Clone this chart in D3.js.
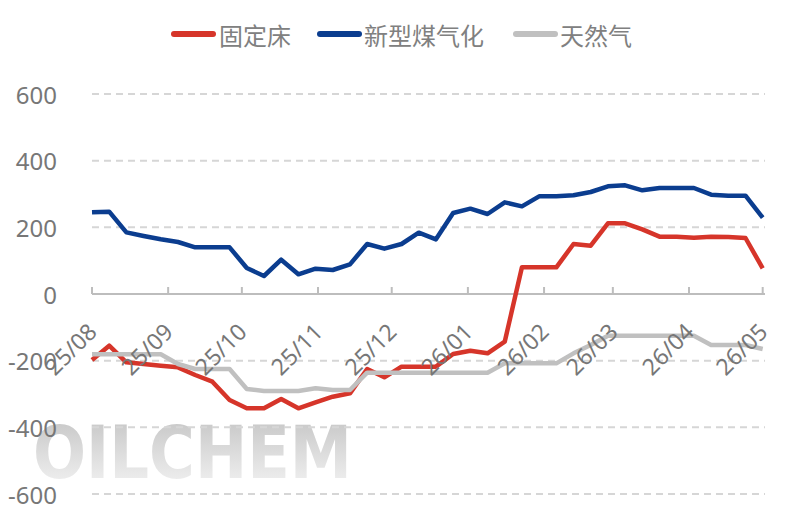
<!DOCTYPE html>
<html>
<head>
<meta charset="utf-8">
<script src="https://cdn.jsdelivr.net/npm/d3@7/dist/d3.min.js"></script>
<style>
  html, body { margin: 0; padding: 0; background: #fff; }
  svg { display: block; }
</style>
</head>
<body>
<svg id="chart" width="800" height="526"></svg>
<script>
const dates = ["2025-08-01","2025-08-08","2025-08-15","2025-08-22","2025-08-29","2025-09-05","2025-09-12","2025-09-19","2025-09-26","2025-10-03","2025-10-10","2025-10-17","2025-10-24","2025-10-31","2025-11-07","2025-11-14","2025-11-21","2025-11-28","2025-12-05","2025-12-12","2025-12-19","2025-12-26","2026-01-02","2026-01-09","2026-01-16","2026-01-23","2026-01-30","2026-02-06","2026-02-13","2026-02-20","2026-02-27","2026-03-06","2026-03-13","2026-03-20","2026-03-27","2026-04-03","2026-04-10","2026-04-17","2026-04-24","2026-05-01"];
const fixedBed = [-198,-155,-205,-210,-215,-220,-243,-263,-318,-343,-343,-315,-343,-325,-308,-298,-225,-250,-218,-218,-218,-180,-170,-178,-143,80,80,80,150,145,212,212,194,172,172,169,172,171,168,77];
const newCoal = [245,247,185,174,164,156,140,140,140,78,54,103,59,76,72,89,150,136,150,184,164,243,256,240,275,263,293,293,296,306,323,326,311,318,318,318,298,295,295,229];
const naturalGas = [-181,-181,-181,-181,-181,-210,-225,-225,-225,-285,-291,-291,-291,-283,-288,-288,-236,-236,-236,-236,-236,-236,-236,-236,-208,-208,-208,-208,-178,-153,-125,-125,-125,-125,-125,-125,-153,-153,-153,-165];
const seriesNames = ["固定床","新型煤气化","天然气"];
const seriesColors = ["#d6352a","#0b3d8f","#c0c0c0"];
const yTicks = [-600,-400,-200,0,200,400,600];
const xTickLabels = ["25/08","25/09","25/10","25/11","25/12","26/01","26/02","26/03","26/04","26/05"];

const parse = d3.timeParse("%Y-%m-%d");
const dateObjs = dates.map(parse);
const allSeries = [fixedBed, newCoal, naturalGas];

const svg = d3.select("#chart");
const font = "'Noto Sans','Noto Sans CJK SC',sans-serif";

const plotL = 92, plotR = 762.7, plotT = 94, plotB = 494;
const x = d3.scaleTime().domain([parse("2025-08-01"), parse("2026-05-01")]).range([plotL, plotR]);
const y = d3.scaleLinear().domain([-600, 600]).range([plotB, plotT]);

// watermark
const defs = svg.append("defs");
const grad = defs.append("linearGradient").attr("id","wm").attr("x1",0).attr("y1",0).attr("x2",0).attr("y2",1);
grad.append("stop").attr("offset","0%").attr("stop-color","#c2c2c2");
grad.append("stop").attr("offset","100%").attr("stop-color","#f6f6f6");
svg.append("text")
  .attr("x", 33).attr("y", 478)
  .attr("textLength", 319).attr("lengthAdjust", "spacingAndGlyphs")
  .attr("font-family", "'DejaVu Sans', sans-serif").attr("font-weight", "bold")
  .attr("font-size", 73).attr("fill", "url(#wm)")
  .text("OILCHEM");

// grid lines
svg.append("g").selectAll("line")
  .data(yTicks.filter(d => d !== 0))
  .join("line")
  .attr("x1", plotL).attr("x2", 765)
  .attr("y1", d => y(d)).attr("y2", d => y(d))
  .attr("stroke", "#d6d6d6").attr("stroke-width", 2)
  .attr("stroke-dasharray", "7,5");

// y labels
svg.append("g").selectAll("text")
  .data(yTicks)
  .join("text")
  .attr("x", 57).attr("y", d => y(d))
  .attr("text-anchor", "end").attr("dominant-baseline", "central")
  .attr("font-family", font).attr("font-size", 24).attr("fill", "#777")
  .text(d => d);

// x axis line (at zero)
const monthTicks = d3.timeMonth.range(parse("2025-08-01"), parse("2026-05-02"));
const axisG = svg.append("g");
axisG.append("line")
  .attr("x1", plotL).attr("x2", 765)
  .attr("y1", y(0)).attr("y2", y(0))
  .attr("stroke", "#bdbdbd").attr("stroke-width", 2);
axisG.selectAll("line.tick")
  .data(monthTicks)
  .join("line").attr("class","tick")
  .attr("x1", d => x(d)).attr("x2", d => x(d))
  .attr("y1", y(0)).attr("y2", y(0) - 7)
  .attr("stroke", "#bdbdbd").attr("stroke-width", 2);

// lines
const line = d3.line()
  .x((d, i) => x(dateObjs[i]))
  .y(d => y(d));
svg.append("g").selectAll("path")
  .data(allSeries)
  .join("path")
  .attr("d", d => line(d))
  .attr("fill", "none")
  .attr("stroke", (d, i) => seriesColors[i])
  .attr("stroke-width", 4.5)
  .attr("stroke-linejoin", "round");

// x labels
svg.append("g").selectAll("text")
  .data(monthTicks)
  .join("text")
  .attr("transform", d => `translate(${x(d)},${y(0) + 33}) rotate(-45)`)
  .attr("text-anchor", "end").attr("dominant-baseline", "central")
  .attr("font-family", font).attr("font-size", 23).attr("fill", "#777")
  .text((d, i) => xTickLabels[i]);

// legend
const legendItems = [{x: 172, tx: 219}, {x: 318, tx: 364}, {x: 514, tx: 560}];
const lg = svg.append("g");
legendItems.forEach((it, i) => {
  lg.append("line")
    .attr("x1", it.x + 2).attr("x2", it.x + 41)
    .attr("y1", 34).attr("y2", 34)
    .attr("stroke", seriesColors[i]).attr("stroke-width", 6)
    .attr("stroke-linecap", "round");
  lg.append("text")
    .attr("x", it.tx).attr("y", 34)
    .attr("dominant-baseline", "central")
    .attr("font-family", "'Noto Sans CJK SC',sans-serif").attr("font-size", 24).attr("fill", "#808080")
    .text(seriesNames[i]);
});
</script>
</body>
</html>
